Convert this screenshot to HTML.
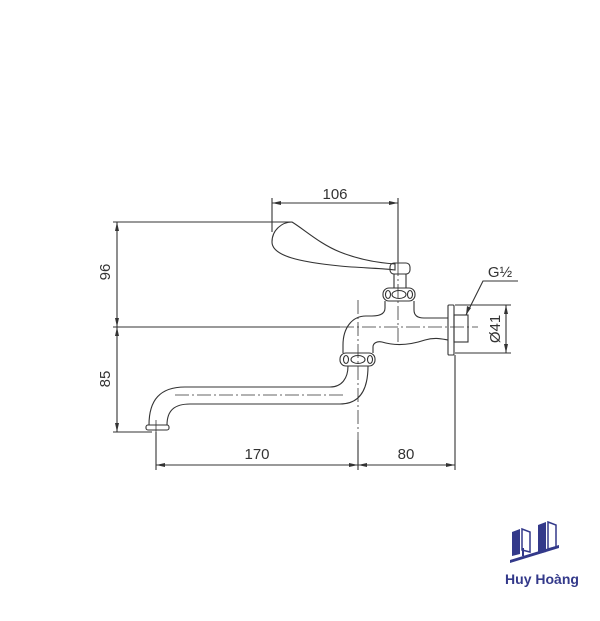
<!DOCTYPE html>
<html><head><style>
html,body{margin:0;padding:0;background:#fff;}
svg{display:block;}
text{font-family:"Liberation Sans",sans-serif;fill:#333;}
</style></head><body>
<svg width="600" height="621" viewBox="0 0 600 621" xmlns="http://www.w3.org/2000/svg">
<g stroke="#333" stroke-width="1.1" fill="none">
<line x1="113" y1="222" x2="292" y2="222"/>
<line x1="113" y1="327" x2="340" y2="327"/>
<line x1="113" y1="432" x2="152" y2="432"/>
<line x1="117" y1="222" x2="117" y2="432"/>
<line x1="272" y1="198" x2="272" y2="232"/>
<line x1="398" y1="198" x2="398" y2="262"/>
<line x1="272" y1="203" x2="398" y2="203"/>
<line x1="156" y1="432" x2="156" y2="470"/>
<line x1="358" y1="440" x2="358" y2="470"/>
<line x1="455" y1="355" x2="455" y2="470"/>
<line x1="156" y1="465" x2="455" y2="465"/>
<line x1="455" y1="305" x2="511" y2="305"/>
<line x1="455" y1="353" x2="511" y2="353"/>
<line x1="506" y1="305" x2="506" y2="353"/>
<polyline points="466,315 483,281 518,281"/>
<g stroke-dasharray="14,3,2,3" stroke-width="0.8">
<line x1="340" y1="327" x2="478" y2="327"/>
<line x1="398" y1="262" x2="398" y2="345"/>
<line x1="358" y1="300" x2="358" y2="440"/>
<line x1="175" y1="395" x2="345" y2="395"/>
<line x1="156" y1="420" x2="156" y2="440"/>
</g>
<path d="M292,222 C282,222 272,230 272,242 C272,256 300,262 340,266 C360,268 380,268 395,270 L395,264 C380,263 360,260 340,252 C320,244 305,230 292,222 Z"/>
<rect x="390" y="263" width="20" height="11" rx="4"/>
<path d="M394,274 L394,288 M406,274 L406,288"/>
<rect x="383" y="288" width="32" height="13" rx="6"/>
<ellipse cx="399" cy="294.5" rx="7" ry="4"/>
<ellipse cx="388" cy="294.5" rx="2.5" ry="4"/>
<ellipse cx="410" cy="294.5" rx="2.5" ry="4"/>
<path d="M385,301 L385,308 C385,314 380,316 372,316 L366,316 C352,316 343,328 343,345 L343,353"/>
<path d="M414,301 L414,310 C414,316 418,318 424,318 L448,318"/>
<path d="M373,353 L373,347 C373,343 377,341 382,342 C395,346 410,345 425,340 C435,337 442,339 448,340"/>
<rect x="448" y="305" width="6" height="50" rx="1"/>
<rect x="454" y="315" width="14" height="27"/>
<rect x="340" y="353" width="35" height="13" rx="6"/>
<ellipse cx="358" cy="359.5" rx="7" ry="4"/>
<ellipse cx="346" cy="359.5" rx="2.5" ry="4"/>
<ellipse cx="370" cy="359.5" rx="2.5" ry="4"/>
<path d="M149,425 C149,400 160,387 185,387 L330,387 C342,387 348,378 348,366"/>
<path d="M167,425 C167,410 175,404 190,404 L340,404 C358,404 368,392 368,366"/>
<rect x="146" y="425" width="23" height="5" rx="2"/>
</g>
<g fill="#333">
<path d="M117,222 l-2,9 l4,0 z"/><path d="M117,327 l-2,-9 l4,0 z"/>
<path d="M117,327 l-2,9 l4,0 z"/><path d="M117,432 l-2,-9 l4,0 z"/>
<path d="M272,203 l9,-2 l0,4 z"/><path d="M398,203 l-9,-2 l0,4 z"/>
<path d="M156,465 l9,-2 l0,4 z"/><path d="M358,465 l-9,-2 l0,4 z"/>
<path d="M358,465 l9,-2 l0,4 z"/><path d="M455,465 l-9,-2 l0,4 z"/>
<path d="M506,305 l-2,9 l4,0 z"/><path d="M506,353 l-2,-9 l4,0 z"/>
<path d="M466,315 l1,-9 l4,2 z"/>
</g>
<text x="335" y="199" font-size="15" text-anchor="middle">106</text>
<text x="257" y="459" font-size="15" text-anchor="middle">170</text>
<text x="406" y="459" font-size="15" text-anchor="middle">80</text>
<text x="500" y="277" font-size="15" text-anchor="middle">G½</text>
<text transform="translate(110,272) rotate(-90)" font-size="15" text-anchor="middle">96</text>
<text transform="translate(110,379) rotate(-90)" font-size="15" text-anchor="middle">85</text>
<text transform="translate(500,329) rotate(-90)" font-size="15" text-anchor="middle">Ø41</text>
<g fill="#33398a">
<path d="M512,532 l8,-3 l0,25 l-8,2 z"/>
<path d="M522,529 l8,3 l0,20 l-8,-2 z" fill="none" stroke="#33398a" stroke-width="1.5"/>
<path d="M538,525 l8,-3 l0,30 l-8,2 z"/>
<path d="M548,522 l8,3 l0,22 l-8,2 z" fill="none" stroke="#33398a" stroke-width="1.5"/>
<path d="M510,560 l49,-15 l0,3 l-49,15 z"/>
<rect x="522" y="548" width="2" height="8"/>
</g>
<text x="542" y="584" font-size="14" font-weight="bold" text-anchor="middle" style="fill:#33398a">Huy Hoàng</text>
</svg>
</body></html>
